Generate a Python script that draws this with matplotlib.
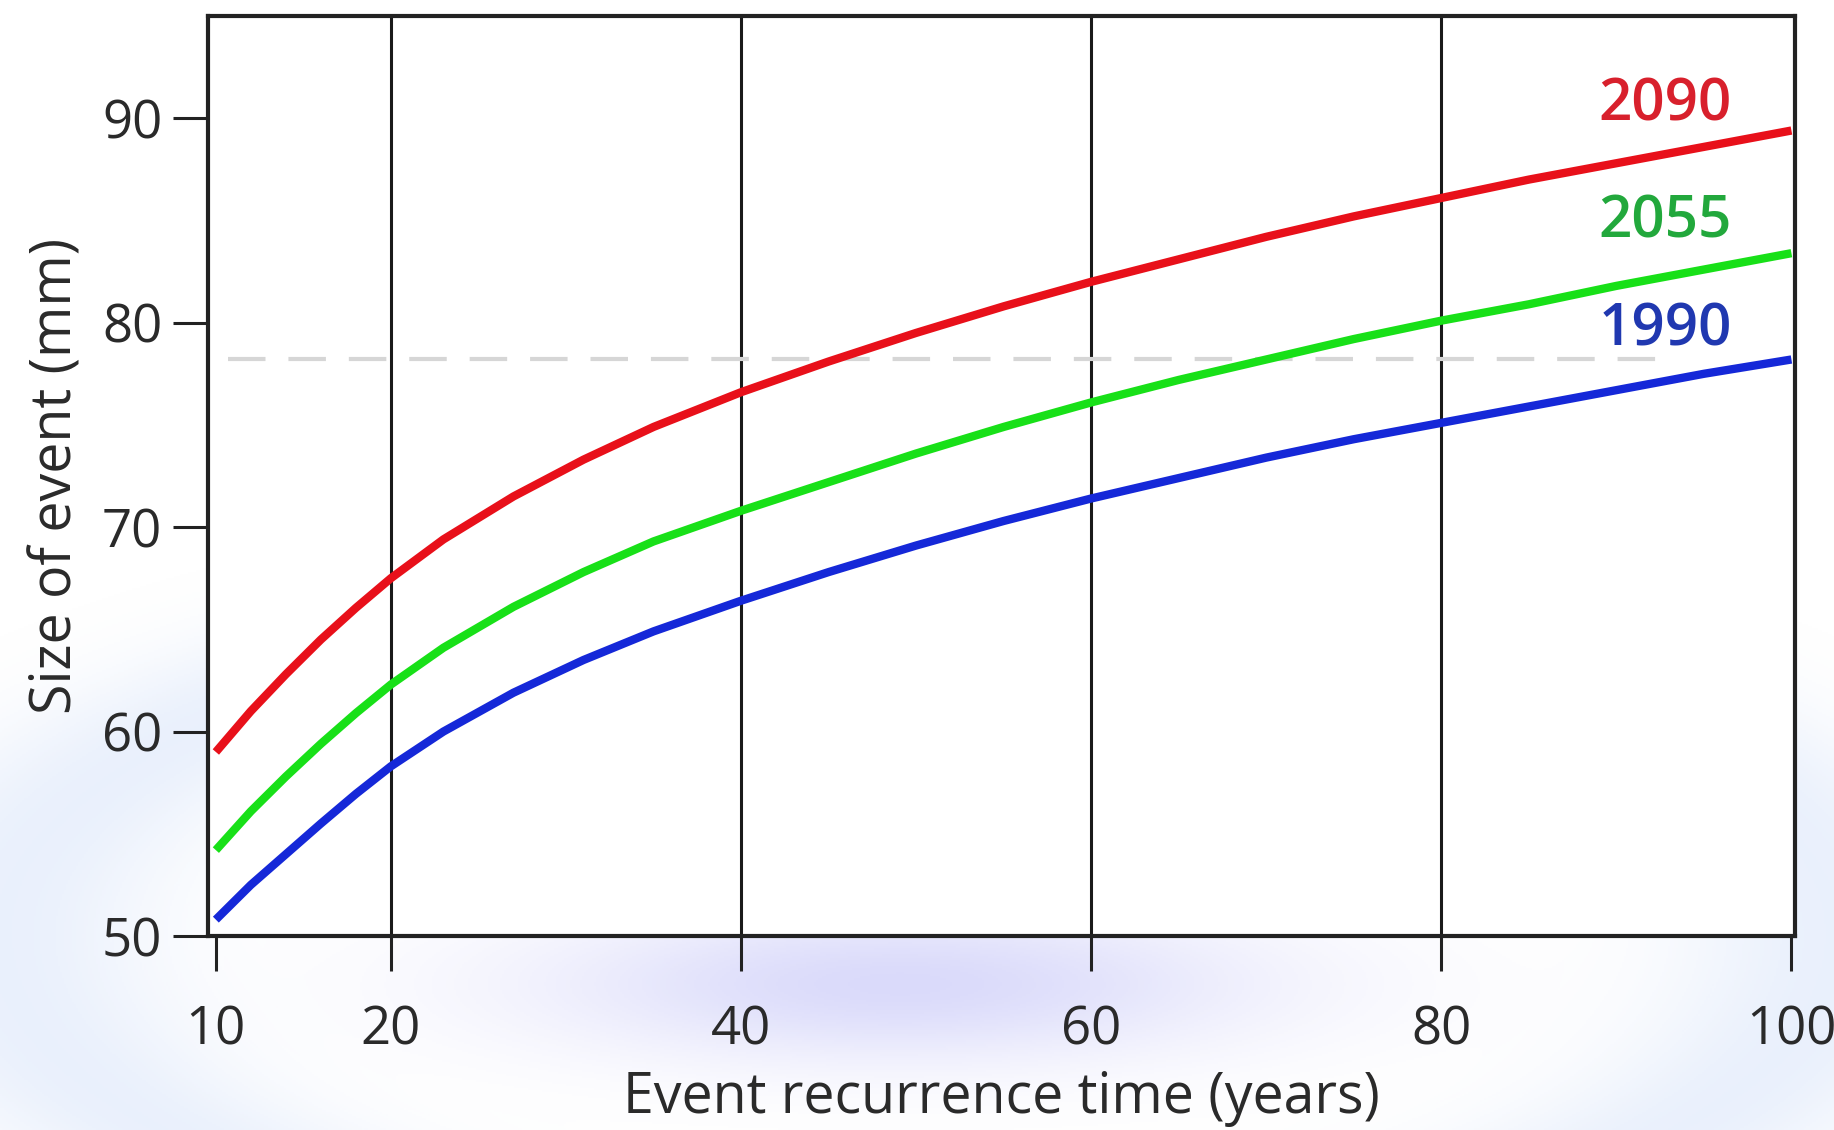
import matplotlib
matplotlib.use("Agg")
import matplotlib.pyplot as plt
import numpy as np

# ---- data ----
recurrence_years = [10, 12, 14, 16, 18, 20, 23, 27, 31, 35, 40, 45, 50, 55, 60, 65, 70, 75, 80, 85, 90, 95, 100]
size_2090 = [59.0, 61.0, 62.8, 64.5, 66.05, 67.5, 69.4, 71.5, 73.3, 74.9, 76.6, 78.1, 79.5, 80.8, 82.0, 83.1, 84.2, 85.2, 86.1, 87.0, 87.8, 88.6, 89.4]
size_2055 = [54.2, 56.1, 57.8, 59.4, 60.9, 62.3, 64.1, 66.1, 67.8, 69.3, 70.8, 72.2, 73.6, 74.9, 76.1, 77.2, 78.2, 79.2, 80.1, 80.9, 81.8, 82.6, 83.4]
size_1990 = [50.8, 52.5, 54.0, 55.5, 56.95, 58.3, 60.0, 61.9, 63.5, 64.9, 66.4, 67.8, 69.1, 70.3, 71.4, 72.4, 73.4, 74.3, 75.1, 75.9, 76.7, 77.5, 78.2]
series_labels = ["2090", "2055", "1990"]
reference_level = 78.2
reference_x = [10.7, 93.0]
x_ticks = [10, 20, 40, 60, 80, 100]
y_ticks = [50, 60, 70, 80, 90]
grid_x = [20, 40, 60, 80]

FONT = ["Open Sans", "DejaVu Sans"]
plt.rcParams["font.family"] = FONT

W, H = 1834, 1130
fig = plt.figure(figsize=(W / 100, H / 100), dpi=100)
fig.patch.set_facecolor("white")

# ---- faint bluish watermark glow behind the chart ----
bg = fig.add_axes([0, 0, 1, 1], zorder=-10)
bg.set_axis_off()
yy, xx = np.mgrid[0:H:2, 0:W:2]
fx = xx / W
fy = 1 - yy / H
r = np.sqrt(((fx - 0.50) / 0.50) ** 2 + ((fy - 0.17) / 0.30) ** 2)
ring = 0.22 * np.exp(-((r - 1.0) / 0.17) ** 2)
blob = 0.36 * np.exp(-(((fx - 0.49) / 0.20) ** 2 + ((fy - 0.13) / 0.07) ** 2))
alpha = np.clip(ring + blob, 0, 1)
ring_c = np.array([0.62, 0.74, 0.95])
blob_c = np.array([0.60, 0.60, 0.95])
wsum = ring + blob + 1e-9
rgba = np.zeros(alpha.shape + (4,))
rgba[..., :3] = (ring_c * ring[..., None] + blob_c * blob[..., None]) / wsum[..., None]
rgba[..., 3] = alpha
bg.imshow(rgba, extent=[0, 1, 0, 1], aspect="auto", origin="upper")
bg.set_xlim(0, 1)
bg.set_ylim(0, 1)

ax = fig.add_axes([0.1134, 0.1717, 0.8653, 0.8141], zorder=1)
ax.set_facecolor("white")

ax.set_xlim(9.55, 100.2)
ax.set_ylim(50, 95)

for gx in grid_x:
    ax.axvline(gx, color="#1a1a1a", lw=2.2, zorder=1)

ax.plot(reference_x, [reference_level, reference_level], color="#d6d6d6",
        lw=3, dashes=(9, 5.5), zorder=1)

colors = ["#e8101a", "#18e018", "#1528d8"]
text_colors = ["#d8202c", "#22a83c", "#2038b0"]
label_y = [90.6, 84.9, 79.6]
for ys, c in zip([size_2090, size_2055, size_1990], colors):
    ax.plot(recurrence_years, ys, color=c, lw=6, solid_capstyle="butt",
            solid_joinstyle="round", zorder=3)
for lab, tc, ly in zip(series_labels, text_colors, label_y):
    ax.text(96.6, ly, lab, color=tc, fontsize=42, fontweight="semibold",
            ha="right", va="center", zorder=4)

for s in ax.spines.values():
    s.set_linewidth(3)
    s.set_color("#222222")

ax.set_xticks(x_ticks)
ax.set_yticks(y_ticks)
ax.tick_params(axis="both", direction="out", length=25, width=2.2, color="#222222",
               labelsize=38, labelcolor="#2a2a2a")
ax.tick_params(axis="x", pad=24)
ax.tick_params(axis="y", pad=8)

ax.set_xlabel("Event recurrence time (years)", fontsize=40, color="#2a2a2a", labelpad=9)
ax.set_ylabel("Size of event (mm)", fontsize=40, color="#2a2a2a", labelpad=12)

fig.savefig("out.png", dpi=100, facecolor=fig.get_facecolor())
